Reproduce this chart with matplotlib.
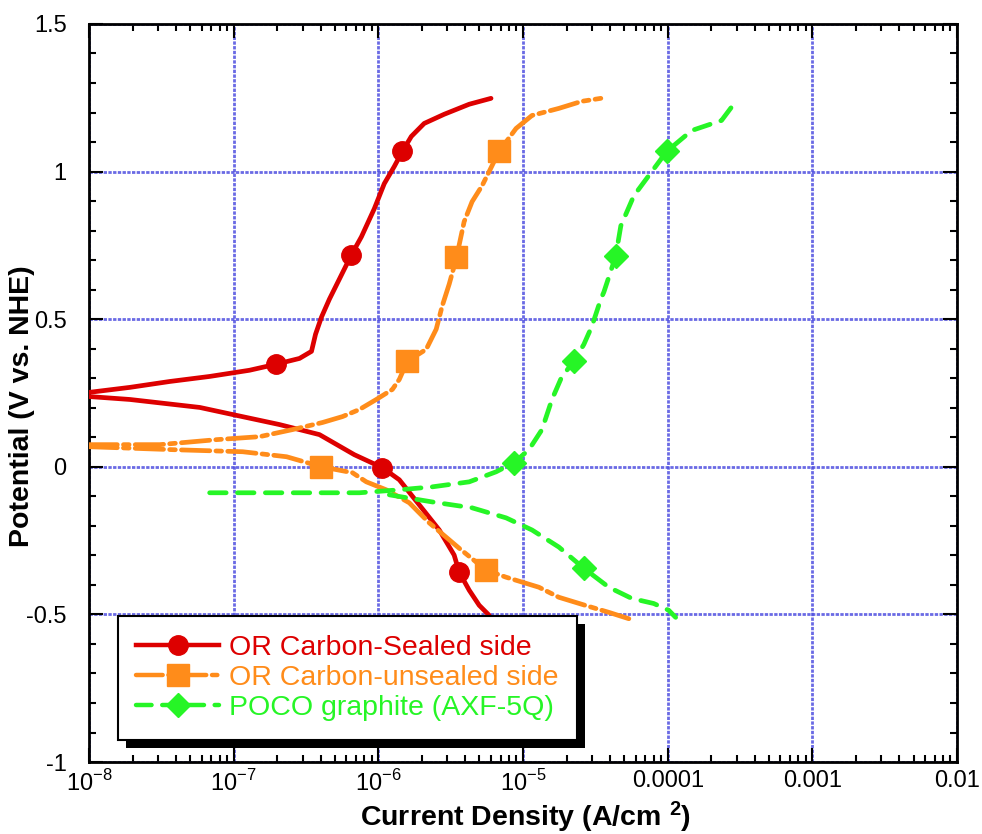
import numpy as np
import matplotlib
matplotlib.use("Agg")
import matplotlib.pyplot as plt
import matplotlib.patheffects as pe
from matplotlib import font_manager
from matplotlib.ticker import FuncFormatter, MultipleLocator

# --- data (log10 of current density in A/cm2, potential in V vs NHE) ---
sealed_anodic_logi = [-8.0, -7.717, -7.441, -7.166, -6.890, -6.710, -6.545, -6.462, -6.434,
                      -6.393, -6.338, -6.269, -6.186, -6.117, -6.028, -5.959, -5.890, -5.834,
                      -5.772, -5.683, -5.545, -5.372, -5.221]
sealed_anodic_v = [0.252, 0.269, 0.289, 0.306, 0.327, 0.347, 0.367, 0.391, 0.449,
                   0.507, 0.568, 0.636, 0.718, 0.779, 0.874, 0.959, 1.017, 1.068,
                   1.119, 1.163, 1.194, 1.228, 1.248]
sealed_cathodic_logi = [-8.0, -7.717, -7.234, -7.007, -6.683, -6.407, -6.166, -5.972, -5.855,
                        -5.717, -5.579, -5.476, -5.441, -5.372, -5.303, -5.234]
sealed_cathodic_v = [0.238, 0.228, 0.201, 0.177, 0.143, 0.109, 0.041, -0.003, -0.044,
                     -0.129, -0.214, -0.299, -0.357, -0.418, -0.469, -0.503]
sealed_mark_logi = [-6.710, -6.186, -5.834, -5.972, -5.441]
sealed_mark_v = [0.347, 0.718, 1.068, -0.003, -0.357]

unsealed_anodic_logi = [-8.0, -7.510, -7.117, -6.821, -6.593, -6.386, -6.248, -6.131, -6.014,
                        -5.903, -5.855, -5.800, -5.669, -5.600, -5.559, -5.510, -5.462, -5.428,
                        -5.407, -5.352, -5.283, -5.234, -5.166, -5.048, -4.938, -4.752, -4.593,
                        -4.462]
unsealed_anodic_v = [0.075, 0.075, 0.092, 0.102, 0.126, 0.150, 0.170, 0.194, 0.228,
                     0.262, 0.296, 0.357, 0.398, 0.466, 0.544, 0.619, 0.704, 0.782,
                     0.830, 0.898, 0.952, 1.000, 1.068, 1.146, 1.190, 1.214, 1.238,
                     1.248]
unsealed_cathodic_logi = [-8.0, -7.421, -6.938, -6.634, -6.393, -6.179, -6.083, -5.945, -5.786,
                          -5.648, -5.441, -5.255, -5.117, -4.890, -4.752, -4.545, -4.407, -4.234]
unsealed_cathodic_v = [0.068, 0.058, 0.051, 0.034, 0.0, -0.020, -0.051, -0.078, -0.122,
                       -0.190, -0.276, -0.350, -0.374, -0.408, -0.442, -0.473, -0.493, -0.520]
unsealed_mark_logi = [-6.393, -5.800, -5.462, -5.166, -5.255]
unsealed_mark_v = [0.0, 0.357, 0.711, 1.068, -0.350]

poco_anodic_logi = [-7.166, -6.524, -6.131, -5.855, -5.628, -5.372, -5.186, -5.062, -4.959,
                    -4.869, -4.800, -4.731, -4.648, -4.579, -4.524, -4.462, -4.441, -4.359,
                    -4.324, -4.234, -4.131, -4.007, -3.834, -3.628, -3.524]
poco_anodic_v = [-0.088, -0.088, -0.088, -0.078, -0.068, -0.051, -0.017, 0.014, 0.058,
                 0.126, 0.228, 0.306, 0.357, 0.415, 0.476, 0.568, 0.592, 0.714,
                 0.816, 0.918, 0.986, 1.068, 1.139, 1.173, 1.241]
poco_cathodic_logi = [-5.924, -5.628, -5.352, -5.117, -4.938, -4.752, -4.579, -4.407, -4.248,
                      -4.097, -3.993, -3.945]
poco_cathodic_v = [-0.095, -0.119, -0.139, -0.173, -0.214, -0.272, -0.344, -0.408, -0.446,
                   -0.463, -0.486, -0.510]
poco_mark_logi = [-5.062, -4.648, -4.359, -4.007, -4.579]
poco_mark_v = [0.014, 0.357, 0.714, 1.068, -0.344]

labels = ["OR Carbon-Sealed side", "OR Carbon-unsealed side", "POCO graphite (AXF-5Q)"]
colors = ["#DD0000", "#FF8C1A", "#26F526"]
x_ticks = [1e-8, 1e-7, 1e-6, 1e-5, 1e-4, 1e-3, 1e-2]
x_tick_labels = ["$10^{-8}$", "$10^{-7}$", "$10^{-6}$", "$10^{-5}$", "0.0001", "0.001", "0.01"]

names = {f.name for f in font_manager.fontManager.ttflist}
base = "Liberation Sans" if "Liberation Sans" in names else "DejaVu Sans"
narrow = "Liberation Sans Narrow" if "Liberation Sans Narrow" in names else base

plt.rcParams["font.family"] = [base, "DejaVu Sans"]
plt.rcParams["axes.unicode_minus"] = False
plt.rcParams["mathtext.fontset"] = "custom"
plt.rcParams["mathtext.rm"] = narrow
plt.rcParams["mathtext.bf"] = narrow + ":bold"

fig = plt.figure(figsize=(9.82, 8.34), dpi=100)
ax = fig.add_axes([0.0906, 0.0863, 0.884, 0.885])

styles = [
    dict(linestyle="-", marker="o", ms=14),
    dict(linestyle=(0, (6, 1.3, 1.2, 1.3)), marker="s", ms=16),
    dict(linestyle=(0, (3.5, 2.4)), marker="D", ms=12),
]
series = [
    (sealed_anodic_logi, sealed_anodic_v, sealed_cathodic_logi, sealed_cathodic_v,
     sealed_mark_logi, sealed_mark_v),
    (unsealed_anodic_logi, unsealed_anodic_v, unsealed_cathodic_logi, unsealed_cathodic_v,
     unsealed_mark_logi, unsealed_mark_v),
    (poco_anodic_logi, poco_anodic_v, poco_cathodic_logi, poco_cathodic_v,
     poco_mark_logi, poco_mark_v),
]

handles = []
for (al, av, cl, cv, ml, mv), col, st, lab in zip(series, colors, styles, labels):
    kw = dict(color=col, lw=3.4, linestyle=st["linestyle"], dash_capstyle="round",
              solid_capstyle="round", zorder=3)
    ax.plot(np.power(10.0, al), av, **kw)
    ax.plot(np.power(10.0, cl), cv, **kw)
    ax.plot(np.power(10.0, ml), mv, linestyle="none", marker=st["marker"], ms=st["ms"],
            color=col, mec=col, zorder=4)
    h, = ax.plot([], [], color=col, lw=3.2, linestyle=st["linestyle"],
                 dash_capstyle="round", marker=st["marker"], ms=st["ms"], label=lab)
    handles.append(h)

ax.set_xscale("log")
ax.set_xlim(1e-8, 1e-2)
ax.set_ylim(-1, 1.5)

ax.set_xticks(x_ticks)
ax.set_xticklabels(x_tick_labels, fontfamily=narrow)
ax.yaxis.set_major_locator(MultipleLocator(0.5))
ax.yaxis.set_minor_locator(MultipleLocator(0.1))
ax.yaxis.set_major_formatter(FuncFormatter(lambda v, p: f"{v:g}"))

ax.tick_params(which="both", direction="in", top=True, right=True, width=1.5, colors="black")
ax.tick_params(which="major", length=10)
ax.tick_params(which="minor", length=5)
ax.tick_params(axis="x", which="major", labelsize=17, pad=6)
ax.tick_params(axis="y", which="major", labelsize=17, pad=16)

for s in ax.spines.values():
    s.set_linewidth(2)
    s.set_color("black")

ax.grid(True, which="major", color="#5050E0", lw=2.0, linestyle=(0, (1.2, 0.5)), alpha=0.85)
ax.set_axisbelow(True)

ax.set_xlabel("Current Density (A/cm $\\mathbf{^{2}}$)", fontsize=20.5, fontweight="bold",
              fontfamily=narrow)
ax.xaxis.set_label_coords(0.503, -0.051)
ax.set_ylabel("Potential (V vs. NHE)", fontsize=20.5, fontweight="bold")
ax.yaxis.set_label_coords(-0.062, 0.482)

leg = ax.legend(handles=handles, loc="lower left", bbox_to_anchor=(0.0334, 0.030),
                borderaxespad=0, fontsize=20.5, labelcolor="linecolor", handlelength=2.9,
                handletextpad=0.35, labelspacing=0.15, borderpad=0.65, fancybox=False,
                framealpha=1, edgecolor="black")
leg.get_frame().set_linewidth(1.5)
leg.get_frame().set_path_effects([pe.SimplePatchShadow(offset=(5.5, -5.5), shadow_rgbFace="black",
                                                       alpha=1.0), pe.Normal()])
leg.set_zorder(10)

fig.savefig("out.png", dpi=100, facecolor="white")
